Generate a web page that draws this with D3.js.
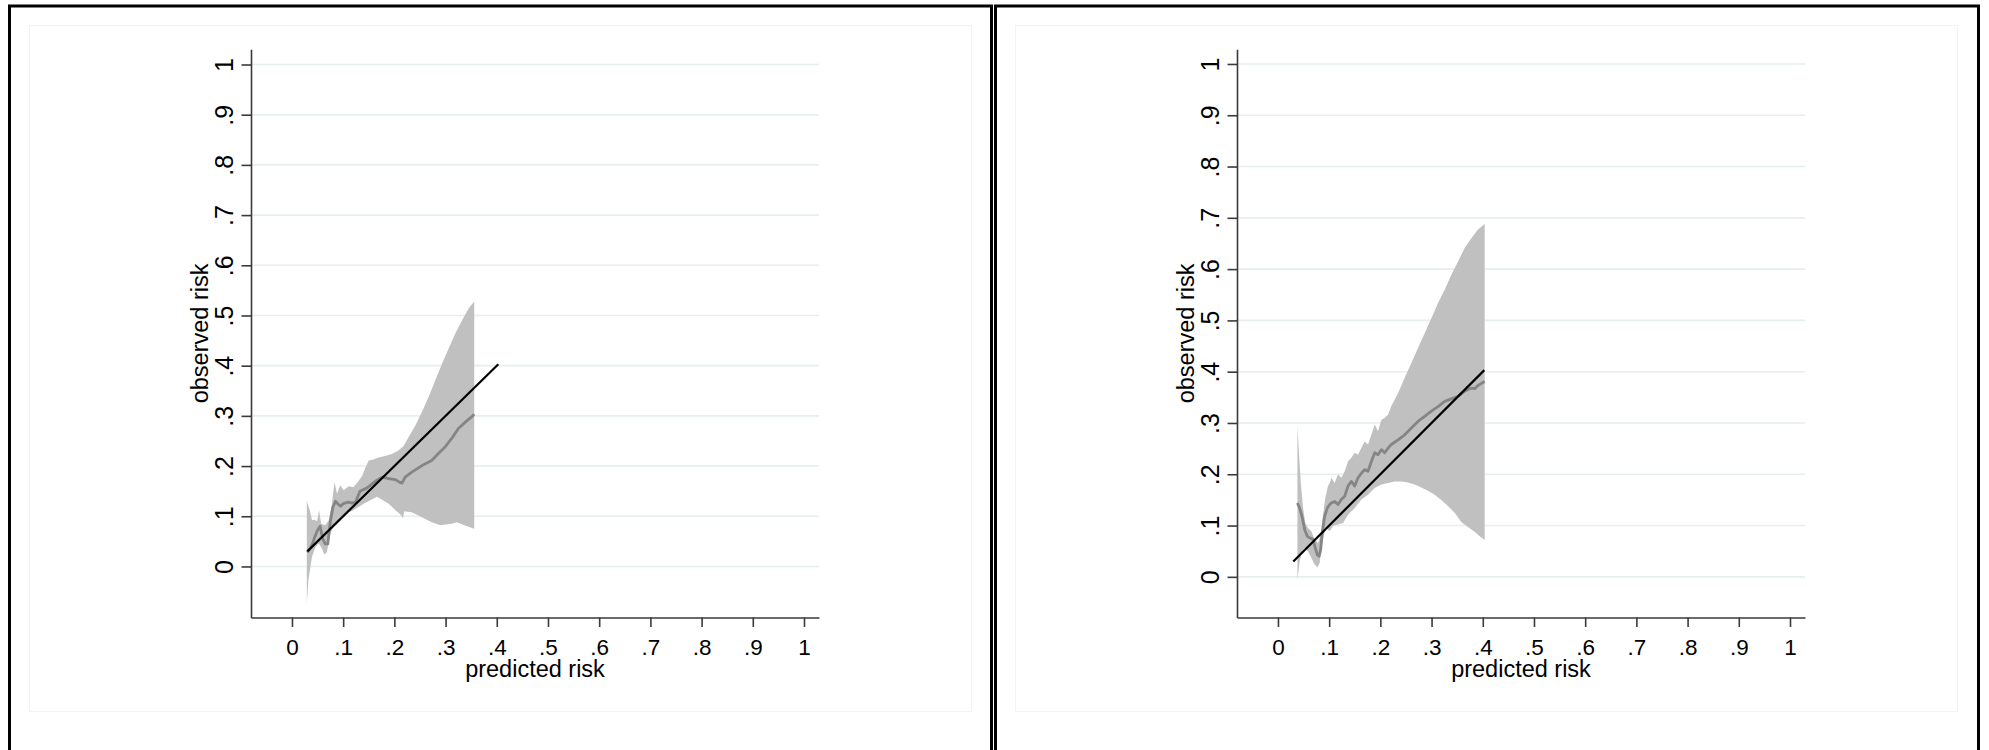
<!DOCTYPE html>
<html lang="en">
<head>
    <meta charset="UTF-8">
    <title>Calibration plots</title>
    <style>
        body, html { margin: 0; padding: 0; background: #ffffff; }
        svg text { font-family: "Liberation Sans", Arial, sans-serif; fill: #000; }
    </style>
</head>
<body>
    <svg id="chart" width="1989" height="750"></svg>

    <script src="https://d3js.org/d3.v7.min.js"></script>
    <script>
        // Axis ticks (same on both axes, both panels)
        const tickValues = [0, 0.1, 0.2, 0.3, 0.4, 0.5, 0.6, 0.7, 0.8, 0.9, 1];
        const tickLabels = ["0", ".1", ".2", ".3", ".4", ".5", ".6", ".7", ".8", ".9", "1"];

        // Reference line y = x, start and end of predicted risk
        const refRange = [0.03, 0.403];

        // Left panel: confidence band edges and lowess smooth, [predicted, observed]
        const leftUpper = [
            [0.029, 0.130], [0.035, 0.112], [0.039, 0.092], [0.044, 0.093], [0.049, 0.090],
            [0.053, 0.112], [0.057, 0.085], [0.065, 0.082], [0.072, 0.092], [0.078, 0.125],
            [0.083, 0.168], [0.088, 0.145], [0.094, 0.162], [0.101, 0.152], [0.111, 0.160],
            [0.120, 0.158], [0.130, 0.170], [0.137, 0.180], [0.143, 0.196], [0.150, 0.211],
            [0.159, 0.213], [0.169, 0.217], [0.182, 0.220], [0.195, 0.224], [0.208, 0.231],
            [0.218, 0.240], [0.228, 0.258], [0.241, 0.281], [0.254, 0.308], [0.267, 0.338],
            [0.280, 0.371], [0.293, 0.404], [0.306, 0.434], [0.319, 0.464], [0.332, 0.490],
            [0.345, 0.514], [0.356, 0.528]
        ];
        const leftLower = [
            [0.029, -0.074], [0.032, -0.028], [0.039, 0.019], [0.0455, 0.038], [0.052, 0.046],
            [0.0586, 0.036], [0.063, 0.024], [0.068, 0.028], [0.075, 0.066], [0.081, 0.080],
            [0.094, 0.096], [0.107, 0.106], [0.120, 0.112], [0.140, 0.125], [0.153, 0.132],
            [0.166, 0.139], [0.189, 0.125], [0.202, 0.112], [0.2115, 0.104], [0.217, 0.096],
            [0.219, 0.110], [0.234, 0.108], [0.254, 0.098], [0.273, 0.088], [0.290, 0.082],
            [0.312, 0.085], [0.322, 0.088], [0.342, 0.080], [0.356, 0.075]
        ];
        const leftSmooth = [
            [0.030, 0.028], [0.035, 0.035], [0.040, 0.045], [0.045, 0.060], [0.050, 0.072],
            [0.055, 0.080], [0.060, 0.055], [0.065, 0.045], [0.070, 0.045], [0.075, 0.090],
            [0.080, 0.118], [0.085, 0.130], [0.090, 0.124], [0.095, 0.120], [0.100, 0.125],
            [0.110, 0.128], [0.117, 0.126], [0.124, 0.128], [0.133, 0.150], [0.146, 0.156],
            [0.156, 0.164], [0.166, 0.172], [0.176, 0.178], [0.189, 0.175], [0.202, 0.173],
            [0.210, 0.168], [0.215, 0.166], [0.221, 0.178], [0.234, 0.188], [0.254, 0.201],
            [0.273, 0.211], [0.286, 0.225], [0.299, 0.238], [0.312, 0.255], [0.325, 0.275],
            [0.339, 0.288], [0.352, 0.299], [0.356, 0.303]
        ];

        // Right panel
        const rightUpper = [
            [0.038, 0.293], [0.0404, 0.251], [0.0444, 0.186], [0.049, 0.134], [0.0535, 0.105],
            [0.0587, 0.095], [0.0652, 0.089], [0.0717, 0.073], [0.0782, 0.066], [0.0834, 0.082],
            [0.088, 0.121], [0.0925, 0.154], [0.0977, 0.177], [0.1023, 0.186], [0.1042, 0.193],
            [0.1108, 0.183], [0.1173, 0.200], [0.1238, 0.193], [0.1303, 0.206], [0.1368, 0.225],
            [0.1433, 0.232], [0.1498, 0.242], [0.1563, 0.238], [0.1628, 0.251], [0.1693, 0.264],
            [0.1759, 0.258], [0.1824, 0.277], [0.1889, 0.297], [0.1954, 0.284], [0.2019, 0.306],
            [0.2084, 0.310], [0.2150, 0.316], [0.2214, 0.333], [0.2345, 0.358], [0.2475, 0.388],
            [0.2605, 0.417], [0.2735, 0.446], [0.2865, 0.475], [0.2996, 0.504], [0.3126, 0.534],
            [0.3256, 0.560], [0.3386, 0.589], [0.3517, 0.615], [0.3647, 0.641], [0.3777, 0.660],
            [0.3907, 0.677], [0.4037, 0.688]
        ];
        const rightLower = [
            [0.038, -0.005], [0.0424, 0.030], [0.0469, 0.050], [0.0522, 0.056], [0.0587, 0.050],
            [0.0652, 0.037], [0.0717, 0.024], [0.0769, 0.018], [0.0815, 0.027], [0.0847, 0.056],
            [0.0899, 0.082], [0.0945, 0.095], [0.101, 0.089], [0.1075, 0.099], [0.1173, 0.102],
            [0.127, 0.105], [0.1368, 0.121], [0.1498, 0.134], [0.1628, 0.151], [0.1759, 0.160],
            [0.1889, 0.173], [0.2019, 0.180], [0.215, 0.183], [0.228, 0.186], [0.241, 0.186],
            [0.254, 0.184], [0.267, 0.180], [0.280, 0.174], [0.293, 0.168], [0.306, 0.160],
            [0.319, 0.150], [0.332, 0.138], [0.345, 0.125], [0.358, 0.107], [0.371, 0.097],
            [0.384, 0.088], [0.394, 0.079], [0.4037, 0.072]
        ];
        const rightSmooth = [
            [0.038, 0.144], [0.0424, 0.134], [0.0469, 0.118], [0.0522, 0.092], [0.0574, 0.079],
            [0.062, 0.076], [0.0684, 0.073], [0.073, 0.056], [0.0769, 0.043], [0.0802, 0.040],
            [0.0834, 0.053], [0.086, 0.082], [0.0912, 0.118], [0.0964, 0.134], [0.101, 0.141],
            [0.1042, 0.144], [0.1108, 0.147], [0.1173, 0.141], [0.1238, 0.151], [0.1303, 0.157],
            [0.1368, 0.177], [0.1433, 0.186], [0.1498, 0.177], [0.1563, 0.193], [0.1628, 0.202],
            [0.1693, 0.209], [0.1759, 0.206], [0.1824, 0.225], [0.1889, 0.242], [0.1954, 0.238],
            [0.2019, 0.248], [0.2084, 0.242], [0.215, 0.251], [0.2214, 0.258], [0.2345, 0.267],
            [0.2475, 0.277], [0.2605, 0.290], [0.2735, 0.303], [0.2865, 0.313], [0.2996, 0.323],
            [0.3126, 0.332], [0.3256, 0.342], [0.3386, 0.347], [0.3517, 0.352], [0.3647, 0.362],
            [0.3777, 0.368], [0.3842, 0.367], [0.3907, 0.373], [0.4037, 0.381]
        ];

        // Panel layout (the two graphs differ only in the y range Stata picked)
        const panels = [
            { ox: 8,   w: 985, yDomain: [-0.1017, 1.0303], upper: leftUpper,  lower: leftLower,  smooth: leftSmooth },
            { ox: 994, w: 986, yDomain: [-0.0793, 1.0286], upper: rightUpper, lower: rightLower, smooth: rightSmooth }
        ];

        const plot = { left: 243, right: 811, top: 49.3, bottom: 617.5 };
        const axisColor = "#3a3a3a";
        const svg = d3.select("#chart");

        panels.forEach(p => {
            const g = svg.append("g").attr("transform", `translate(${p.ox},0)`);

            const x = d3.scaleLinear().domain([-0.08, 1.0293]).range([plot.left, plot.right]);
            const y = d3.scaleLinear().domain(p.yDomain).range([plot.bottom, plot.top]);

            // Outer frame and the faint graph region
            g.append("rect")
                .attr("x", 1.5).attr("y", 6)
                .attr("width", p.w - 3).attr("height", 800)
                .attr("fill", "#fff").attr("stroke", "#000").attr("stroke-width", 3);
            g.append("rect")
                .attr("x", 21.5).attr("y", 25.5)
                .attr("width", 942).attr("height", 686)
                .attr("fill", "none").attr("stroke", "#f3f3f3").attr("stroke-width", 1);

            // Gridlines
            g.append("g")
                .selectAll("line")
                .data(tickValues)
                .join("line")
                .attr("x1", plot.left).attr("x2", plot.right)
                .attr("y1", d => y(d)).attr("y2", d => y(d))
                .attr("stroke", "#e6eef0").attr("stroke-width", 1.6);

            // Confidence band: upper edge forward, lower edge back
            const band = p.upper.concat(p.lower.slice().reverse());
            const line = d3.line().x(d => x(d[0])).y(d => y(d[1]));
            g.append("path")
                .attr("d", line(band) + "Z")
                .attr("fill", "#c0c0c0");

            // Lowess smooth
            g.append("path")
                .attr("d", line(p.smooth))
                .attr("fill", "none")
                .attr("stroke", "#858585")
                .attr("stroke-width", 2.8)
                .attr("stroke-linejoin", "round");

            // Reference line
            g.append("path")
                .attr("d", line(refRange.map(v => [v, v])))
                .attr("fill", "none")
                .attr("stroke", "#000")
                .attr("stroke-width", 2.2);

            // Axes
            const yAxis = g.append("g")
                .attr("transform", `translate(${plot.left},0)`)
                .call(d3.axisLeft(y).tickValues(tickValues).tickSize(9.5).tickSizeOuter(0)
                    .tickFormat((d, i) => tickLabels[i]));
            yAxis.selectAll("text")
                .attr("transform", "rotate(-90)")
                .attr("x", 0).attr("y", -17.7).attr("dy", 0)
                .attr("text-anchor", "middle")
                .style("font-size", "25px");

            const xAxis = g.append("g")
                .attr("transform", `translate(0,${plot.bottom})`)
                .call(d3.axisBottom(x).tickValues(tickValues).tickSize(9.5).tickSizeOuter(0)
                    .tickFormat((d, i) => tickLabels[i]));
            xAxis.selectAll("text")
                .attr("y", 37.5).attr("dy", 0)
                .style("font-size", "22.5px");

            [yAxis, xAxis].forEach(a => {
                a.attr("font-family", null).attr("font-size", null);
                a.select(".domain").attr("stroke", axisColor).attr("stroke-width", 1.6);
                a.selectAll(".tick line").attr("stroke", axisColor).attr("stroke-width", 1.6);
            });

            // Axis titles
            g.append("text")
                .attr("x", (plot.left + plot.right) / 2).attr("y", 676.7)
                .attr("text-anchor", "middle")
                .style("font-size", "23.5px")
                .text("predicted risk");
            g.append("text")
                .attr("transform", `translate(${plot.left - 43.3},${(plot.top + plot.bottom) / 2}) rotate(-90)`)
                .attr("text-anchor", "middle")
                .style("font-size", "23.5px")
                .text("observed risk");
        });
    </script>
</body>
</html>
